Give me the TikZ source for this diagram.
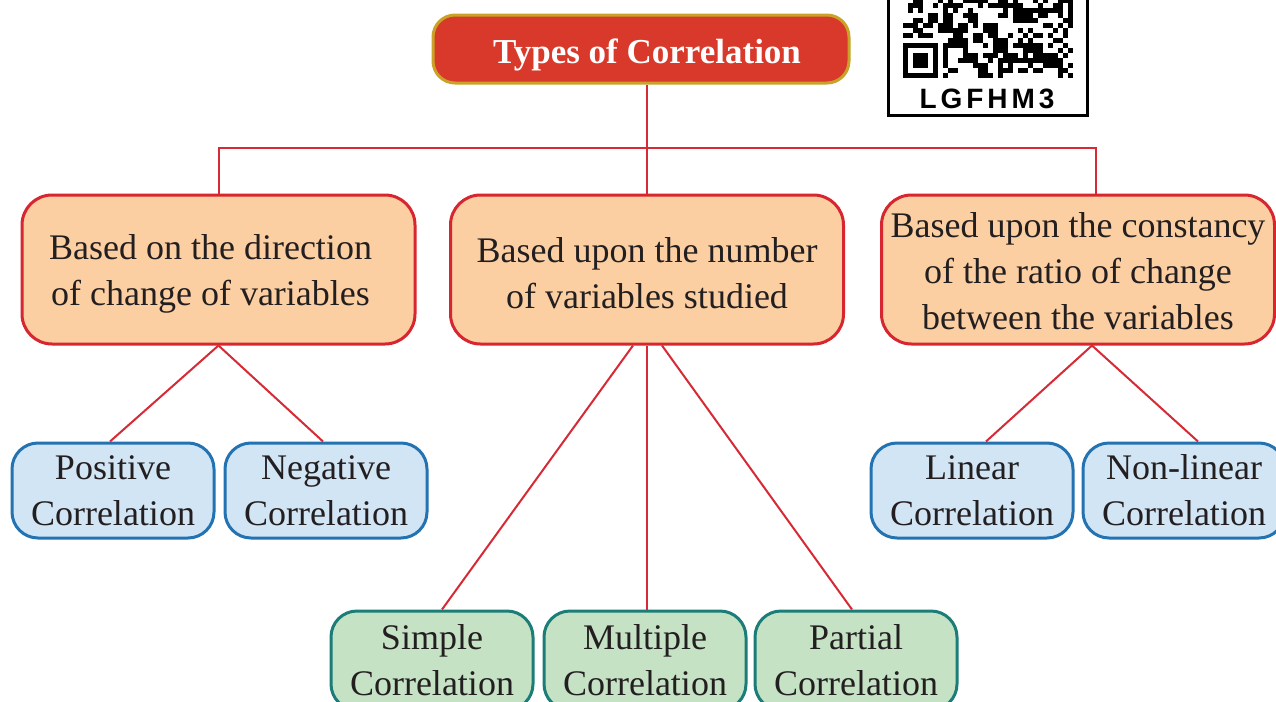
\documentclass[tikz,border=0pt]{standalone}
\usepackage{fontspec}
\setmainfont{Liberation Serif}
\newfontfamily\qrfont[LetterSpace=14]{Liberation Sans}
\definecolor{linered}{HTML}{D62B36}
\definecolor{titlered}{HTML}{D9392A}
\definecolor{titleborder}{HTML}{C9A227}
\definecolor{catfill}{HTML}{FCCFA3}
\definecolor{catborder}{HTML}{D7262F}
\definecolor{bluefill}{HTML}{D2E5F5}
\definecolor{blueborder}{HTML}{2372B2}
\definecolor{greenfill}{HTML}{C5E2C5}
\definecolor{greenborder}{HTML}{1C7D78}
\definecolor{txt}{HTML}{231F20}
\newcommand\lowr[2]{\raisebox{-#1}[\height][\depth]{#2}}
\tikzset{
  connector/.style={draw=linered, line width=1pt},
  titlebox/.style={draw=titleborder, fill=titlered, line width=1.5pt, rounded corners=11pt,
    minimum width=208pt, minimum height=34pt, text=white, inner sep=0pt,
    font=\fontsize{17.5}{21}\selectfont\bfseries},
  catbox/.style={draw=catborder, fill=catfill, line width=1.5pt, rounded corners=15pt,
    minimum width=196.5pt, minimum height=74.5pt, align=center, inner sep=0pt,
    text=txt, font=\fontsize{18}{23}\selectfont},
  leafbox/.style={line width=1.5pt, rounded corners=13pt, minimum width=101pt,
    align=center, inner sep=0pt, text=txt, font=\fontsize{18}{23}\selectfont},
  bluebox/.style={leafbox, draw=blueborder, fill=bluefill, minimum height=47.5pt},
  greenbox/.style={leafbox, draw=greenborder, fill=greenfill, minimum height=49.5pt},
}
\begin{document}
\begin{tikzpicture}[x=0.5pt,y=-0.5pt]
\useasboundingbox (0,0) rectangle (1276,702);
\clip (0,0) rectangle (1276,702);
\fill[white] (0,0) rectangle (1276,702);

% QR code box
\draw[line width=1.5pt, fill=white] (888,-10) rectangle (1087,115);
\pgfmathsetseed{7}
\foreach \i in {0,...,33}{
  \foreach \j in {0,...,16}{
    \pgfmathtruncatemacro\r{(\i<8 && \j<8) ? 0 : random(0,1)}
    \ifnum\r=1 \fill (903+5*\i,78-5*\j) rectangle ++(5,-5); \fi
  }
}
\fill (903,78) rectangle (938,43);
\fill[white] (908,73) rectangle (933,48);
\fill (913,68) rectangle (928,53);
\node[font=\qrfont\bfseries\fontsize{14}{14}\selectfont, inner sep=0pt] (qrlabel) at (987,99) {LGFHM3};

% nodes
\node[titlebox] (title) at (641,49) {\hspace*{6pt}\lowr{3pt}{Types of Correlation}};
\node[catbox] (dir) at (218.5,269.5) {\lowr{2pt}{Based on the direction}\hspace*{8pt}\\\lowr{2pt}{of change of variables}\hspace*{8pt}};
\node[catbox] (num) at (647,269.5) {\lowr{2pt}{Based upon the number}\\\lowr{2pt}{of variables studied}};
\node[catbox] (con) at (1078,269.5) {\lowr{1pt}{Based upon the constancy}\\\lowr{1pt}{of the ratio of change}\\\lowr{1pt}{between the variables}};

\node[bluebox] (pos) at (113,490.5) {Positive\\Correlation};
\node[bluebox] (neg) at (326,490.5) {Negative\\Correlation};
\node[bluebox] (lin) at (972,490.5) {Linear\\Correlation};
\node[bluebox] (nonlin) at (1184,490.5) {Non-linear\\Correlation};

\node[greenbox] (simple) at (432,660.5) {Simple\\Correlation};
\node[greenbox] (multiple) at (645,660.5) {Multiple\\Correlation};
\node[greenbox] (partial) at (856,660.5) {Partial\\Correlation};

% connectors
\coordinate (bus) at (647,148);
\draw[connector] (num.north) -- (num.north |- title.south);
\draw[connector] (dir.north) -- (dir.north |- bus) -- ([xshift=9pt]con.north |- bus) -- ([xshift=9pt]con.north);

\draw[connector] (dir.south) -- ([xshift=-1.5pt]pos.north);
\draw[connector] (dir.south) -- ([xshift=-1.5pt]neg.north);

\draw[connector] ([xshift=-7pt]num.south) -- ([xshift=5pt]simple.north);
\draw[connector] (num.south) -- ([xshift=1pt]multiple.north);
\draw[connector] ([xshift=7.5pt]num.south) -- ([xshift=-2pt]partial.north);

\draw[connector] ([xshift=7pt]con.south) -- ([xshift=7pt]lin.north);
\draw[connector] ([xshift=7pt]con.south) -- ([xshift=7pt]nonlin.north);
\end{tikzpicture}
\end{document}
